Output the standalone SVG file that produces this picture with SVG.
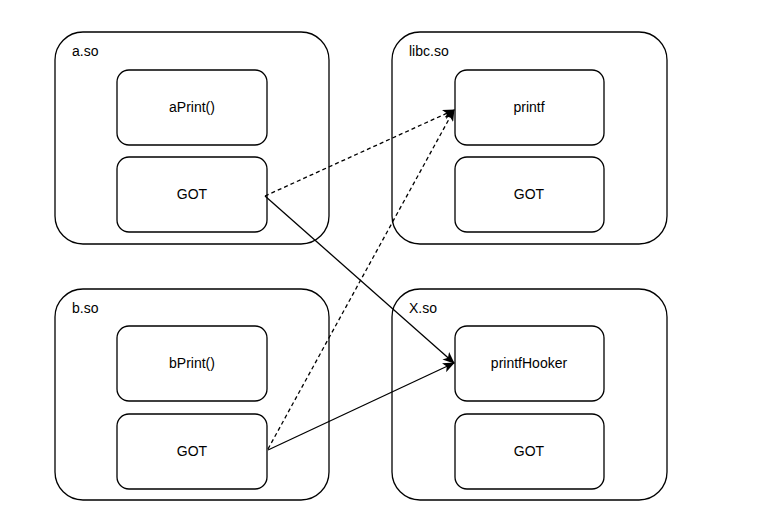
<svg xmlns="http://www.w3.org/2000/svg" width="780" height="528" viewBox="0 0 780 528">
<defs>
<style>
.outer{fill:#fff;stroke:#000;stroke-width:1.3}
.inner{fill:#fff;stroke:#000;stroke-width:1.3}
text{font-family:"Liberation Sans","DejaVu Sans",sans-serif;font-size:14px;fill:#000}
.c{text-anchor:middle}
.edge{fill:none;stroke:#000;stroke-width:1.3}
.dash{stroke-dasharray:4 3}
</style>
<marker id="arr" viewBox="0 0 12 10" refX="11" refY="5" markerWidth="12" markerHeight="10" markerUnits="userSpaceOnUse" orient="auto">
<path d="M0,0 L12,5 L0,10 L3,5 Z" fill="#000"/>
</marker>
</defs>
<rect width="780" height="528" fill="#fff"/>
<g id="a_so">
<rect class="outer" x="55" y="32" width="274" height="212" rx="28"/>
<text x="72" y="56">a.so</text>
<g id="aPrint"><rect class="inner" x="117" y="70" width="150" height="75" rx="12"/><text class="c" x="192" y="112">aPrint()</text></g>
<g id="a_GOT"><rect class="inner" x="117" y="157" width="150" height="75" rx="12"/><text class="c" x="192" y="199">GOT</text></g>
</g>
<g id="libc_so">
<rect class="outer" x="392" y="32" width="275" height="212" rx="28"/>
<text x="409" y="56">libc.so</text>
<g id="printf"><rect class="inner" x="455" y="70" width="149" height="75" rx="12"/><text class="c" x="529" y="112">printf</text></g>
<g id="libc_GOT"><rect class="inner" x="455" y="157" width="149" height="75" rx="12"/><text class="c" x="529" y="199">GOT</text></g>
</g>
<g id="b_so">
<rect class="outer" x="55" y="289" width="274" height="211" rx="28"/>
<text x="72" y="313">b.so</text>
<g id="bPrint"><rect class="inner" x="117" y="326" width="150" height="75" rx="12"/><text class="c" x="192" y="368">bPrint()</text></g>
<g id="b_GOT"><rect class="inner" x="117" y="414" width="150" height="75" rx="12"/><text class="c" x="192" y="456">GOT</text></g>
</g>
<g id="X_so">
<rect class="outer" x="392" y="289" width="275" height="211" rx="28"/>
<text x="409" y="313">X.so</text>
<g id="printfHooker"><rect class="inner" x="455" y="326" width="149" height="75" rx="12"/><text class="c" x="529" y="368">printfHooker</text></g>
<g id="X_GOT"><rect class="inner" x="455" y="414" width="149" height="75" rx="12"/><text class="c" x="529" y="456">GOT</text></g>
</g>
<g id="connectors">
<path class="edge dash" d="M265,196 L454,110" marker-end="url(#arr)"/>
<path class="edge dash" d="M268,449 L454,110" marker-end="url(#arr)"/>
<path class="edge" d="M265,196 L454,363" marker-end="url(#arr)"/>
<path class="edge" d="M268,450 L454,363" marker-end="url(#arr)"/>
</g>
</svg>
